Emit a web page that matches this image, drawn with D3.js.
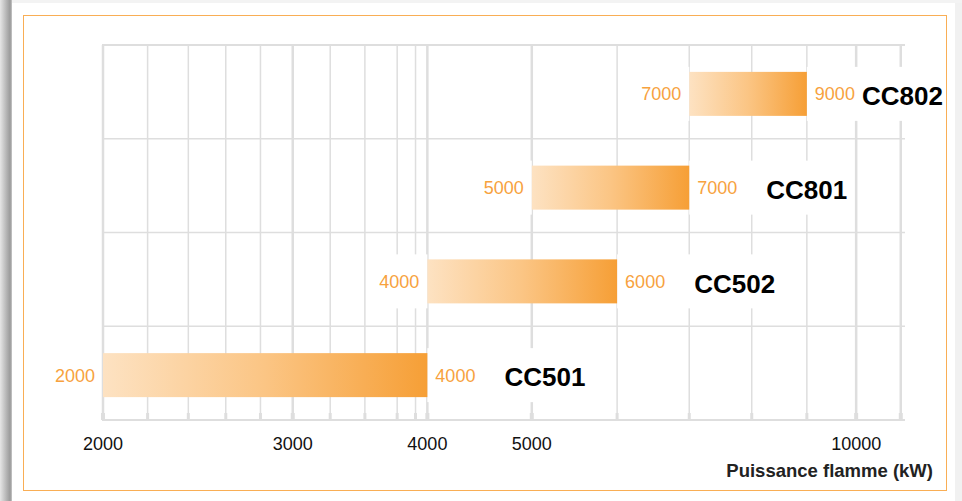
<!DOCTYPE html>
<html>
<head>
<meta charset="utf-8">
<script src="https://cdn.jsdelivr.net/npm/d3@7"></script>
<style>
  html, body { margin: 0; padding: 0; background: #fff; }
  svg { display: block; }
  text { font-family: "Liberation Sans", Arial, Helvetica, sans-serif; }
</style>
</head>
<body>
<svg id="chart" width="962" height="501"></svg>
<script>
// ---- data ----
const models   = ["CC802", "CC801", "CC502", "CC501"];
const minPower = [7000, 5000, 4000, 2000];
const maxPower = [9000, 7000, 6000, 4000];
const gridValues  = [2000, 2200, 2400, 2600, 2800, 3000, 3250, 3500, 3750, 3900, 4000,
                     5000, 6000, 7000, 8000, 9000, 10000, 11000];
const majorValues = [2000, 3000, 4000, 5000, 10000, 11000];
const tickLabels  = [2000, 3000, 4000, 5000, 10000];
const axisTitle   = "Puissance flamme (kW)";

// ---- setup ----
const svg = d3.select("#chart");
const W = 962, H = 501;
const orange = "#f7a23e";
const gridCol = "#dedede";

const defs = svg.append("defs");
const shadow = defs.append("linearGradient").attr("id", "lshadow")
  .attr("x1", "0").attr("x2", "1").attr("y1", "0").attr("y2", "0");
shadow.append("stop").attr("offset", "0").attr("stop-color", "#e6e6e6");
shadow.append("stop").attr("offset", "0.55").attr("stop-color", "#b4b4b4");
shadow.append("stop").attr("offset", "0.85").attr("stop-color", "#9a9a9a");
shadow.append("stop").attr("offset", "1").attr("stop-color", "#c8c8c8");

const barGrad = defs.append("linearGradient").attr("id", "barGrad")
  .attr("x1", "0").attr("x2", "1").attr("y1", "0").attr("y2", "0");
barGrad.append("stop").attr("offset", "0").attr("stop-color", "#fde2c2");
barGrad.append("stop").attr("offset", "0.5").attr("stop-color", "#fbc584");
barGrad.append("stop").attr("offset", "1").attr("stop-color", "#f69f36");

// page frame
svg.append("rect").attr("x", 0).attr("y", 0).attr("width", W).attr("height", H).attr("fill", "#f3f3f3");
svg.append("rect").attr("x", 0).attr("y", 0).attr("width", 12).attr("height", H).attr("fill", "url(#lshadow)");
svg.append("rect").attr("x", 12).attr("y", 3).attr("width", 943).attr("height", H - 3).attr("fill", "#fff");
svg.append("rect").attr("x", 955).attr("y", 3).attr("width", 7).attr("height", H - 3).attr("fill", "#f1f1f1");

// ---- scales ----
const x = d3.scaleLog().domain([2000, 11100]).range([103, 905]);
const y = d3.scaleBand().domain(models).range([45, 420]).padding(0);
const barH = 44;
const yTop = 45, yBot = 420;

// ---- grid ----
const grid = svg.append("g");
grid.selectAll("line.v").data(gridValues).join("line")
  .attr("class", "v")
  .attr("x1", d => x(d)).attr("x2", d => x(d))
  .attr("y1", yTop).attr("y2", yBot)
  .attr("stroke", gridCol)
  .attr("stroke-width", d => majorValues.includes(d) ? 2.5 : 1.5);
// small tick stubs at the bottom
grid.selectAll("line.t").data(gridValues).join("line")
  .attr("class", "t")
  .attr("x1", d => x(d)).attr("x2", d => x(d))
  .attr("y1", yBot - 7).attr("y2", yBot)
  .attr("stroke", gridCol)
  .attr("stroke-width", d => majorValues.includes(d) ? 4 : 3);
const bounds = models.map(m => y(m)).concat([yBot]);
grid.selectAll("line.h").data(bounds).join("line")
  .attr("class", "h")
  .attr("x1", 102).attr("x2", 905)
  .attr("y1", d => d).attr("y2", d => d)
  .attr("stroke", gridCol)
  .attr("stroke-width", (d, i) => (i === 0 || i === bounds.length - 1) ? 2 : 1.5);

// ---- labels with white backing boxes ----
const data = models.map((m, i) => ({ m, lo: minPower[i], hi: maxPower[i] }));
const boxes = svg.append("g");
const labels = svg.append("g");

data.forEach(d => {
  const cy = y(d.m) + y.bandwidth() / 2 + 2;
  const lt = labels.append("text")
    .attr("x", x(d.lo) - 8).attr("y", cy).attr("dy", "0.36em")
    .attr("text-anchor", "end").attr("font-size", 18).attr("fill", orange)
    .text(d.lo);
  const rt = labels.append("text")
    .attr("x", x(d.hi) + 8).attr("y", cy).attr("dy", "0.36em")
    .attr("font-size", 18).attr("fill", orange)
    .text(d.hi);
  const rEnd = x(d.hi) + 8 + rt.node().getComputedTextLength();
  const ct = labels.append("text")
    .attr("y", cy + 2).attr("dy", "0.36em")
    .attr("font-size", 26).attr("font-weight", "bold").attr("fill", "#000")
    .text(d.m);
  const cw = ct.node().getComputedTextLength();
  const cx = Math.min(rEnd + 29, 943 - cw);
  ct.attr("x", cx);

  const lw = lt.node().getComputedTextLength();
  if (d.lo > 2000) {
    boxes.append("rect")
      .attr("x", x(d.lo) - 8 - lw - 5).attr("y", cy - 27)
      .attr("width", lw + 13).attr("height", 54).attr("fill", "#fff");
  }
  boxes.append("rect")
    .attr("x", x(d.hi)).attr("y", cy - 27)
    .attr("width", cx + cw + 4 - x(d.hi)).attr("height", 54).attr("fill", "#fff");
});

// ---- bars ----
svg.append("g").selectAll("rect").data(data).join("rect")
  .attr("x", d => x(d.lo))
  .attr("y", d => y(d.m) + y.bandwidth() / 2 + 2 - barH / 2)
  .attr("width", d => x(d.hi) - x(d.lo))
  .attr("height", barH)
  .attr("fill", "url(#barGrad)");

labels.raise();

// ---- axis ----
svg.append("g").selectAll("text").data(tickLabels).join("text")
  .attr("x", d => x(d)).attr("y", 450)
  .attr("text-anchor", "middle").attr("font-size", 18).attr("fill", "#111")
  .text(d => d);

svg.append("text")
  .attr("x", 933).attr("y", 477)
  .attr("text-anchor", "end").attr("font-size", 18.5).attr("font-weight", "bold").attr("fill", "#222")
  .text(axisTitle);

// orange border
svg.append("rect").attr("x", 23.5).attr("y", 15.5).attr("width", 923).attr("height", 475)
  .attr("fill", "none").attr("stroke", "#f9ae55").attr("stroke-width", 1);
</script>
</body>
</html>
